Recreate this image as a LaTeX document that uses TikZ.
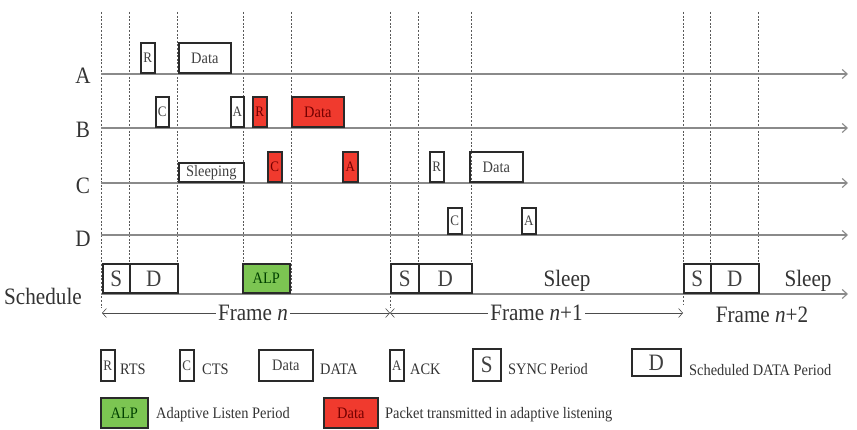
\documentclass[tikz,border=0pt]{standalone}
\usepackage{fontspec}
\setmainfont{Liberation Serif}[FakeStretch=0.9]
\usetikzlibrary{arrows.meta}
\definecolor{pktred}{HTML}{F03A2E}
\definecolor{alpgreen}{HTML}{7CC552}
\definecolor{linegray}{HTML}{8A8A8A}
\definecolor{boxline}{HTML}{2A2A2A}
\newcommand\bigf{\fontsize{23.5}{26}\selectfont}
\newcommand\midf{\fontsize{16}{18}\selectfont}
\newcommand\smlf{\fontsize{14.5}{16}\selectfont}
\begin{document}
\begin{tikzpicture}[x=1pt,y=-1pt,
  tl/.style={draw=linegray,line width=1.1pt,-{Straight Barb[length=5pt,width=9pt]}},
  vdash/.style={draw=gray!70!black,line width=0.7pt,dash pattern=on 2pt off 1.6pt},
  pk/.style={draw=boxline,line width=1.6pt,rectangle,inner sep=0pt,anchor=south west,font=\smlf,text=black!75},
  rpk/.style={pk,fill=pktred,text=red!45!black},
  gpk/.style={pk,fill=alpgreen,text=green!25!black},
  lbl/.style={font=\bigf,text=black!80,inner sep=0pt},
  leg/.style={font=\midf,text=black!80,anchor=west,inner sep=0pt},
  frm/.style={draw=black!70,line width=0.6pt,{Straight Barb[length=4pt,width=9pt]}-{Straight Barb[length=4pt,width=9pt]}}
]
\useasboundingbox (0,0) rectangle (857,430);
% vertical dashed guides
\foreach \x/\yb in {101/308,129/296,177/296,243/296,291/296,390/308,418/296,471/296,683/304,710/296,758/296}
  \draw[vdash] (\x,12) -- (\x,\yb);
% timelines
\coordinate (sA) at (101,74);  \coordinate (eA) at (848,74);
\coordinate (sB) at (101,128); \coordinate (eB) at (848,128);
\coordinate (sC) at (101,183); \coordinate (eC) at (848,183);
\coordinate (sD) at (101,235); \coordinate (eD) at (848,235);
\coordinate (sS) at (101,294); \coordinate (eS) at (848,294);
\draw[tl] (sA) -- (eA);
\draw[tl] (sB) -- (eB);
\draw[tl] (sC) -- (eC);
\draw[tl] (sD) -- (eD);
\draw[tl] (sS) -- (eS);
% row labels
\node[lbl] (lA) at (83,76) {A};
\node[lbl] (lB) at (83,130) {B};
\node[lbl] (lC) at (83,186) {C};
\node[lbl] (lD) at (83,239) {D};
\node[lbl] (lS) at (43,296) {Schedule};
% row A
\node[pk,minimum width=14,minimum height=30] (aR) at (140,74) {R};
\node[pk,minimum width=52,minimum height=30,font=\midf] (aData) at (178,74) {Data};
% row B
\node[pk,minimum width=13,minimum height=30] (bC) at (155,128) {C};
\node[pk,minimum width=13,minimum height=30] (bA) at (230,128) {A};
\node[rpk,minimum width=14,minimum height=30] (bR) at (252,128) {R};
\node[rpk,minimum width=52,minimum height=30,font=\midf] (bData) at (291,128) {Data};
% row C
\node[pk,minimum width=65,minimum height=19,font=\midf] (cSl) at (178,183) {Sleeping};
\node[rpk,minimum width=14,minimum height=30] (cC) at (267,183) {C};
\node[rpk,minimum width=15,minimum height=30] (cA) at (342,183) {A};
\node[pk,minimum width=14,minimum height=30] (cR) at (429,183) {R};
\node[pk,minimum width=53,minimum height=30,font=\midf] (cData) at (469,183) {Data};
% row D
\node[pk,minimum width=14,minimum height=26] (dC) at (447,235) {C};
\node[pk,minimum width=14,minimum height=26] (dA) at (521,235) {A};
% schedule
\node[pk,minimum width=27,minimum height=29,font=\bigf] (s1) at (102,294) {S};
\node[pk,minimum width=48,minimum height=29,font=\bigf] (d1) at (129,294) {D};
\node[gpk,minimum width=47,minimum height=29,font=\midf] (alp) at (242,294) {ALP};
\node[pk,minimum width=28,minimum height=29,font=\bigf] (s2) at (390,294) {S};
\node[pk,minimum width=53,minimum height=29,font=\bigf] (d2) at (418,294) {D};
\node[lbl] (sl2) at (567,281) {Sleep};
\node[pk,minimum width=27,minimum height=29,font=\bigf] (s3) at (683,294) {S};
\node[pk,minimum width=48,minimum height=29,font=\bigf] (d3) at (710,294) {D};
\node[lbl] (sl3) at (808,281) {Sleep};
% frames
\coordinate (f0) at (102,313);
\coordinate (f1) at (390,313);
\coordinate (f2) at (683,313);
\draw[frm] (f0) -- node[fill=white,font=\bigf,text=black!80,inner sep=2pt,xshift=7pt] {Frame \textit{n}} (f1);
\draw[frm] (f1) -- node[fill=white,font=\bigf,text=black!80,inner sep=2pt] {Frame \textit{n}+1} (f2);
\node[lbl] (fr2) at (762,315) {Frame \textit{n}+2};
% legend row 1
\node[pk,minimum width=14,minimum height=31] (kR) at (100,382) {R};
\node[leg] (tR) at (120,369) {RTS};
\node[pk,minimum width=14,minimum height=31] (kC) at (179,382) {C};
\node[leg] (tC) at (202,369) {CTS};
\node[pk,minimum width=54,minimum height=31,font=\midf] (kD) at (258,382) {Data};
\node[leg] (tD) at (320,369) {DATA};
\node[pk,minimum width=14,minimum height=31] (kA) at (389,382) {A};
\node[leg] (tA) at (410,369) {ACK};
\node[pk,minimum width=28,minimum height=32,font=\bigf] (kS) at (472,382) {S};
\node[leg] (tS) at (508,369) {SYNC Period};
\node[pk,minimum width=49,minimum height=27,font=\bigf] (kSD) at (631,377) {D};
\node[leg] (tSD) at (689,370) {Scheduled DATA Period};
% legend row 2
\node[gpk,minimum width=47,minimum height=30,font=\midf] (kALP) at (100,429) {ALP};
\node[leg] (tALP) at (156,415) {Adaptive Listen Period};
\node[rpk,minimum width=54,minimum height=30,font=\midf] (kRD) at (323,429) {Data};
\node[leg] (tRD) at (385,415) {Packet transmitted in adaptive listening};
\end{tikzpicture}
\end{document}
